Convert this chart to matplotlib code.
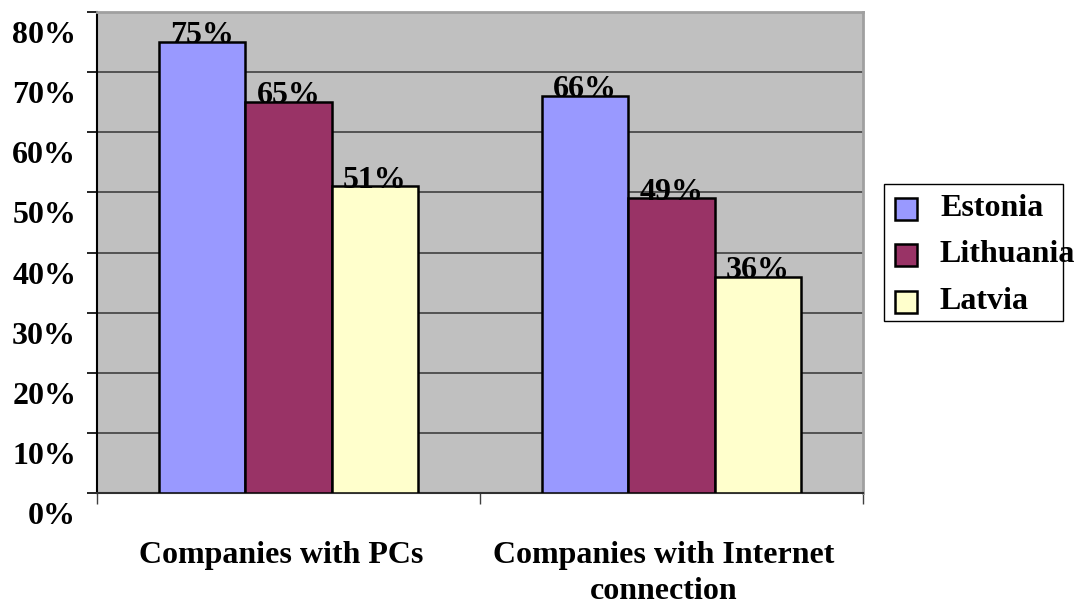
import matplotlib.pyplot as plt
from matplotlib.patches import Rectangle
import matplotlib.transforms as mtransforms

plt.rcParams['font.family'] = ['Liberation Serif', 'DejaVu Serif']
plt.rcParams['font.weight'] = 'bold'

# --- data ---
categories = ["Companies with PCs", "Companies with Internet\nconnection"]
countries = ["Estonia", "Lithuania", "Latvia"]
estonia = [75, 66]
lithuania = [65, 49]
latvia = [51, 36]
series = [estonia, lithuania, latvia]
colors = ["#9999FF", "#993366", "#FFFFCC"]
yticks = [0, 10, 20, 30, 40, 50, 60, 70, 80]

FS = 23

fig = plt.figure(figsize=(10.77, 6.06), dpi=100)
ax = fig.add_axes([97/1077, 1-493/606, (863-97)/1077, (493-12)/606])
ax.set_facecolor("#C0C0C0")

w = 0.225
for k, (vals, col) in enumerate(zip(series, colors)):
    xs = [i + (k - 1) * w for i in range(len(categories))]
    ax.bar(xs, vals, width=w, color=col, edgecolor="black", linewidth=1.8, zorder=3)
    for x, v in zip(xs, vals):
        ax.text(x, v - 0.2, f"{v}%", ha="center", va="baseline", fontsize=FS,
                fontweight="bold", zorder=4)

ax.set_xlim(-0.5, 1.5)
ax.set_ylim(0, 80)
ax.set_yticks(yticks)
ax.set_yticklabels([f"{t}%" for t in yticks], fontsize=FS, fontweight="bold")
ax.yaxis.grid(True, color="#404040", linewidth=1.2, zorder=1)
ax.set_axisbelow(True)
ax.tick_params(axis="y", length=7, width=1.2, pad=8, color="black")
# push the y labels down below their ticks
offset = mtransforms.ScaledTranslation(0, -0.20, fig.dpi_scale_trans)
for lab in ax.get_yticklabels():
    lab.set_transform(lab.get_transform() + offset)

ax.set_xticks([-0.5, 0.5, 1.5])
ax.set_xticklabels([])
ax.tick_params(axis="x", length=8, width=1.0, color="#404040")

for s in ["top", "right"]:
    ax.spines[s].set_color("#A0A0A0")
    ax.spines[s].set_linewidth(2)
ax.spines["left"].set_color("black")
ax.spines["left"].set_linewidth(1.5)
ax.spines["bottom"].set_color("#303030")
ax.spines["bottom"].set_linewidth(1.5)

# category labels below the axis
for i, cat in enumerate(categories):
    ax.text(i - 0.02, -8.0, cat, ha="center", va="top", fontsize=FS,
            fontweight="bold", linespacing=1.3)

# legend drawn by hand in pixel coordinates
def px(x, y):
    return x / 1077, 1 - y / 606

lx0, ly0 = px(884, 321)
lx1, ly1 = px(1063, 184)
fig.patches.append(Rectangle((lx0, ly0), lx1 - lx0, ly1 - ly0, transform=fig.transFigure,
                             facecolor="white", edgecolor="black", linewidth=1.0))
rows = [209, 255, 302]
for name, col, yc in zip(countries, colors, rows):
    sx, sy = px(895, yc + 11)
    fig.patches.append(Rectangle((sx, sy), 22/1077, 22/606, transform=fig.transFigure,
                                 facecolor=col, edgecolor="black", linewidth=1.8))
    tx, ty = px(940, yc)
    fig.text(tx, ty, name, ha="left", va="center", fontsize=FS, fontweight="bold")

fig.savefig("out.png", dpi=100)
